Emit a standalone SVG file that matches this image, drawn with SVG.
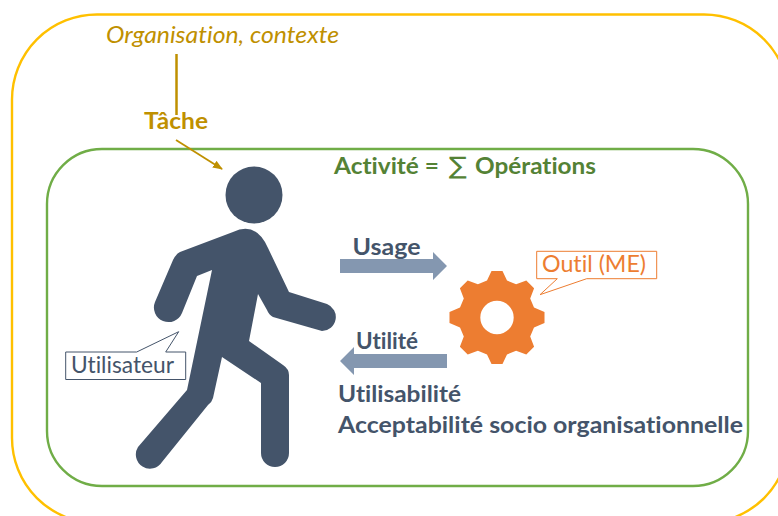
<svg xmlns="http://www.w3.org/2000/svg" width="778" height="516" viewBox="0 0 778 516">
<style>
text{font-family:"Lato","Open Sans","Liberation Sans",sans-serif;font-variant-ligatures:none}
.b{font-weight:700;fill:#44546A;font-size:22px}
.g{font-weight:700}
.arrow{fill:#8497B0}
.person{fill:#44546A}
</style>
<defs><marker id="head" markerUnits="userSpaceOnUse" markerWidth="10" markerHeight="8" refX="9" refY="4" orient="auto"><path d="M0 0L10 4L0 8Z" fill="#BF9000"/></marker></defs>
<rect width="778" height="516" fill="#fff"/>
<g id="organisation"><rect x="12" y="14.500" width="777" height="508.500" rx="85" fill="none" stroke="#FFC000" stroke-width="2.400"/>
<text x="106" y="43" font-size="23" font-style="italic" fill="#BF9000" textLength="233" lengthAdjust="spacingAndGlyphs">Organisation, contexte</text></g>
<g id="activite"><rect x="47" y="149" width="701" height="337" rx="55" fill="none" stroke="#70AD47" stroke-width="2.400"/>
<text x="334" y="173.500" font-size="22" class="g" fill="#548235" textLength="105" lengthAdjust="spacingAndGlyphs">Activité =</text>
<text x="449" y="174" font-size="24" fill="#548235" style="font-family:'DejaVu Sans',sans-serif" textLength="18" lengthAdjust="spacingAndGlyphs">∑</text>
<text x="475" y="173.500" font-size="22" class="g" fill="#548235" textLength="121" lengthAdjust="spacingAndGlyphs">Opérations</text></g>
<g id="tache"><text x="144" y="129" font-size="23" class="g" fill="#BF9000" textLength="64" lengthAdjust="spacingAndGlyphs">Tâche</text></g>
<g id="connectors">
<path d="M176.500 54V115" stroke="#BF9000" stroke-width="2.500" fill="none"/>
<path d="M176 140L222 169" stroke="#BF9000" stroke-width="1.800" fill="none" marker-end="url(#head)"/>
<path class="arrow" d="M340 259H433V252L447 266L433 280V273H340Z"/>
<path class="arrow" d="M447 354H354V347L340 361L354 375V368H447Z"/>
</g>
<g id="utilisateur">
<circle class="person" cx="254" cy="195" r="28.500"/>
<path class="person" d="M233 232L180 252Q176 254 173 260L155 302A14 14 0 0 0 182 313L197 276L212 270L187 390L138 447A14 14 0 0 0 162 462L208 405Q212 402 213 398L222 357L261 383V453A14 14 0 0 0 289 453V375Q289 369 283 365L249 341L258 294L267 310Q269 315 273 317L322 331A14 14 0 0 0 327 304L289 292L268 248Q256 221 233 232Z"/>
<path d="M65.700 352H136.700L178.700 331.700L165.700 352H185.700V379.500H65.700Z" fill="#fff" stroke="#44546A" stroke-width="1"/>
<text x="71" y="373" font-size="23" fill="#44546A" textLength="103" lengthAdjust="spacingAndGlyphs">Utilisateur</text>
</g>
<g id="outil">
<path transform="translate(497 317.500)" fill="#ED7D31" fill-rule="evenodd" d="M-10 -37L-5.500 -46.500L5.500 -46.500L10 -37L19.100 -33.200L29.300 -37.100L37.100 -29.300L33.200 -19.100L37 -10L47.500 -5.500L47.500 5.500L37 10L33.200 19.100L37.100 29.300L29.300 37.100L19.100 33.200L10 37L5.500 46.500L-5.500 46.500L-10 37L-19.100 33.200L-29.300 37.100L-37.100 29.300L-33.200 19.100L-37 10L-47.500 5.500L-47.500 -5.500L-37 -10L-33.200 -19.100L-37.100 -29.300L-29.300 -37.100L-19.100 -33.200ZM16.700 0A16.700 16.700 0 1 0 -16.700 0A16.700 16.700 0 1 0 16.700 0Z"/>
<path d="M536.700 251.300H656.700V278.700H586.700L540 294.700L557.300 278.700H536.700Z" fill="#fff" stroke="#ED7D31" stroke-width="1"/>
<text x="542" y="272" font-size="23" fill="#ED7D31" textLength="104" lengthAdjust="spacingAndGlyphs">Outil (ME)</text>
</g>
<g id="labels">
<text class="b" x="352.500" y="255" textLength="68" lengthAdjust="spacingAndGlyphs">Usage</text>
<text class="b" x="356" y="349" textLength="62" lengthAdjust="spacingAndGlyphs">Utilité</text>
<text class="b" x="338" y="402" textLength="123" lengthAdjust="spacingAndGlyphs">Utilisabilité</text>
<text class="b" x="338" y="433" textLength="405" lengthAdjust="spacingAndGlyphs">Acceptabilité socio organisationnelle</text>
</g>
</svg>
